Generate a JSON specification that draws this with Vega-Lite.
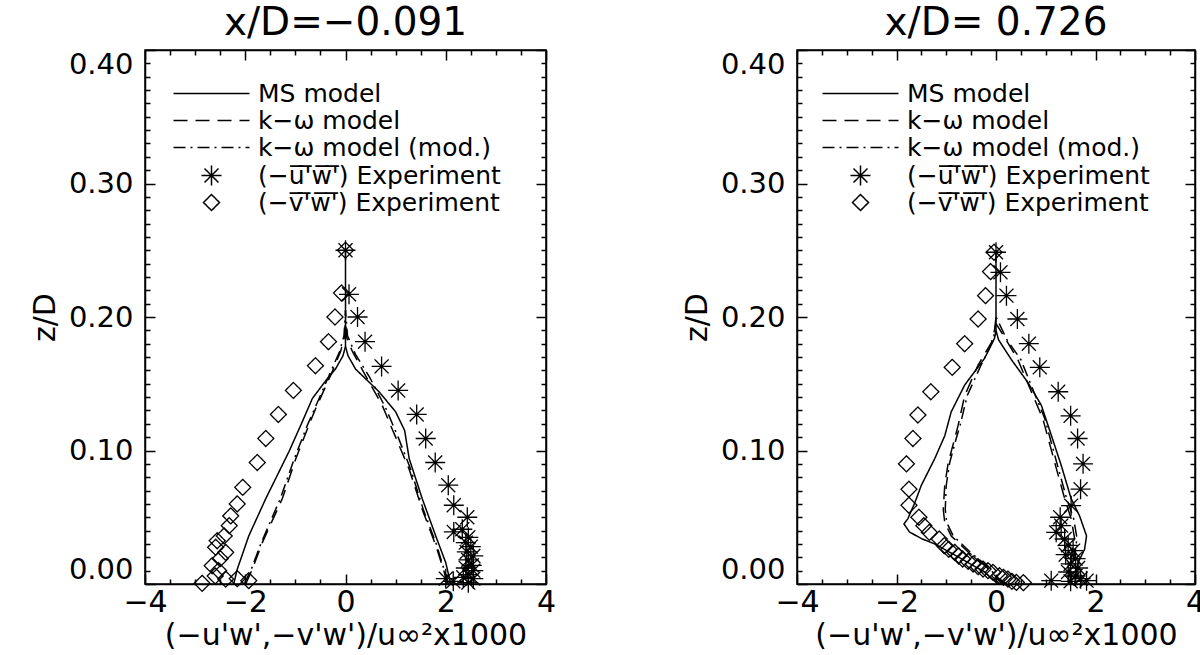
{
  "$schema": "https://vega.github.io/schema/vega-lite/v6.json",
  "background": "white",
  "padding": {"left": 29, "top": 3, "right": 0, "bottom": 0},
  "config": {
    "view": {"stroke": "black", "strokeWidth": 1.5},
    "axis": {"grid": false, "labelFont": "DejaVu Sans", "titleFont": "DejaVu Sans", "labelColor": "black", "titleColor": "black", "domainColor": "black", "tickColor": "black", "titleFontWeight": "normal", "labelFlush": false, "labelOverlap": false, "domainWidth": 1.5, "tickWidth": 1.5},
    "title": {"font": "DejaVu Sans", "fontSize": 39, "fontWeight": "normal", "color": "black", "anchor": "middle", "baseline": "alphabetic", "offset": 6}
  },
  "datasets": {
    "ms_a": [
      {"s":"MS  model","b":"L","v":-2.23,"z":0},{"s":"MS  model","b":"L","v":-2.16,"z":0.011},{"s":"MS  model","b":"L","v":-1.93,"z":0.036},{"s":"MS  model","b":"L","v":-1.59,"z":0.064},{"s":"MS  model","b":"L","v":-1.13,"z":0.099},{"s":"MS  model","b":"L","v":-0.88,"z":0.12},{"s":"MS  model","b":"L","v":-0.66,"z":0.139},{"s":"MS  model","b":"L","v":-0.4,"z":0.152},{"s":"MS  model","b":"L","v":-0.2,"z":0.161},{"s":"MS  model","b":"L","v":-0.05,"z":0.171},{"s":"MS  model","b":"L","v":0,"z":0.178},{"s":"MS  model","b":"L","v":0,"z":0.25},
      {"s":"MS  model","b":"R","v":0,"z":0.178},{"s":"MS  model","b":"R","v":0.05,"z":0.171},{"s":"MS  model","b":"R","v":0.2,"z":0.161},{"s":"MS  model","b":"R","v":0.67,"z":0.144},{"s":"MS  model","b":"R","v":1.0,"z":0.129},{"s":"MS  model","b":"R","v":1.18,"z":0.115},{"s":"MS  model","b":"R","v":1.27,"z":0.094},{"s":"MS  model","b":"R","v":1.53,"z":0.064},{"s":"MS  model","b":"R","v":1.8,"z":0.036},{"s":"MS  model","b":"R","v":2.0,"z":0.016},{"s":"MS  model","b":"R","v":2.1,"z":0}
    ],
    "kw_a": [
      {"s":"k−ω model","b":"L","v":-1.99,"z":0},{"s":"k−ω model","b":"L","v":-1.86,"z":0.011},{"s":"k−ω model","b":"L","v":-1.66,"z":0.031},{"s":"k−ω model","b":"L","v":-1.26,"z":0.064},{"s":"k−ω model","b":"L","v":-0.99,"z":0.094},{"s":"k−ω model","b":"L","v":-0.73,"z":0.119},{"s":"k−ω model","b":"L","v":-0.6,"z":0.131},{"s":"k−ω model","b":"L","v":-0.3,"z":0.156},{"s":"k−ω model","b":"L","v":-0.1,"z":0.174},{"s":"k−ω model","b":"L","v":-0.02,"z":0.185},{"s":"k−ω model","b":"L","v":0,"z":0.2},
      {"s":"k−ω model","b":"R","v":0,"z":0.2},{"s":"k−ω model","b":"R","v":0.02,"z":0.185},{"s":"k−ω model","b":"R","v":0.14,"z":0.174},{"s":"k−ω model","b":"R","v":0.4,"z":0.156},{"s":"k−ω model","b":"R","v":0.73,"z":0.134},{"s":"k−ω model","b":"R","v":1.0,"z":0.11},{"s":"k−ω model","b":"R","v":1.27,"z":0.086},{"s":"k−ω model","b":"R","v":1.53,"z":0.056},{"s":"k−ω model","b":"R","v":1.8,"z":0.029},{"s":"k−ω model","b":"R","v":1.97,"z":0.009},{"s":"k−ω model","b":"R","v":2.03,"z":0},
      {"s":"k−ω model (mod.)","b":"L","v":-2.02,"z":0},{"s":"k−ω model (mod.)","b":"L","v":-1.88,"z":0.011},{"s":"k−ω model (mod.)","b":"L","v":-1.68,"z":0.031},{"s":"k−ω model (mod.)","b":"L","v":-1.3,"z":0.064},{"s":"k−ω model (mod.)","b":"L","v":-1.02,"z":0.094},{"s":"k−ω model (mod.)","b":"L","v":-0.76,"z":0.119},{"s":"k−ω model (mod.)","b":"L","v":-0.62,"z":0.131},{"s":"k−ω model (mod.)","b":"L","v":-0.33,"z":0.156},{"s":"k−ω model (mod.)","b":"L","v":-0.12,"z":0.174},{"s":"k−ω model (mod.)","b":"L","v":-0.03,"z":0.186},{"s":"k−ω model (mod.)","b":"L","v":0,"z":0.205},
      {"s":"k−ω model (mod.)","b":"R","v":0,"z":0.205},{"s":"k−ω model (mod.)","b":"R","v":0.04,"z":0.186},{"s":"k−ω model (mod.)","b":"R","v":0.2,"z":0.172},{"s":"k−ω model (mod.)","b":"R","v":0.48,"z":0.155},{"s":"k−ω model (mod.)","b":"R","v":0.8,"z":0.132},{"s":"k−ω model (mod.)","b":"R","v":1.05,"z":0.11},{"s":"k−ω model (mod.)","b":"R","v":1.3,"z":0.086},{"s":"k−ω model (mod.)","b":"R","v":1.55,"z":0.056},{"s":"k−ω model (mod.)","b":"R","v":1.82,"z":0.029},{"s":"k−ω model (mod.)","b":"R","v":1.98,"z":0.009},{"s":"k−ω model (mod.)","b":"R","v":2.05,"z":0}
    ],
    "u_a": [
      {"s":"(−u̅'̅w̅'̅) Experiment","v":0.0,"z":0.25},{"s":"(−u̅'̅w̅'̅) Experiment","v":0.07,"z":0.217},{"s":"(−u̅'̅w̅'̅) Experiment","v":0.24,"z":0.2},{"s":"(−u̅'̅w̅'̅) Experiment","v":0.39,"z":0.1815},{"s":"(−u̅'̅w̅'̅) Experiment","v":0.72,"z":0.163},{"s":"(−u̅'̅w̅'̅) Experiment","v":1.05,"z":0.145},{"s":"(−u̅'̅w̅'̅) Experiment","v":1.42,"z":0.127},{"s":"(−u̅'̅w̅'̅) Experiment","v":1.6,"z":0.109},{"s":"(−u̅'̅w̅'̅) Experiment","v":1.79,"z":0.091},{"s":"(−u̅'̅w̅'̅) Experiment","v":2.05,"z":0.074},{"s":"(−u̅'̅w̅'̅) Experiment","v":2.16,"z":0.059},{"s":"(−u̅'̅w̅'̅) Experiment","v":2.43,"z":0.05},{"s":"(−u̅'̅w̅'̅) Experiment","v":2.33,"z":0.041},{"s":"(−u̅'̅w̅'̅) Experiment","v":2.16,"z":0.039},{"s":"(−u̅'̅w̅'̅) Experiment","v":2.45,"z":0.035},{"s":"(−u̅'̅w̅'̅) Experiment","v":2.4,"z":0.031},{"s":"(−u̅'̅w̅'̅) Experiment","v":2.5,"z":0.028},{"s":"(−u̅'̅w̅'̅) Experiment","v":2.42,"z":0.024},{"s":"(−u̅'̅w̅'̅) Experiment","v":2.55,"z":0.021},{"s":"(−u̅'̅w̅'̅) Experiment","v":2.45,"z":0.018},{"s":"(−u̅'̅w̅'̅) Experiment","v":2.52,"z":0.014},{"s":"(−u̅'̅w̅'̅) Experiment","v":2.4,"z":0.012},{"s":"(−u̅'̅w̅'̅) Experiment","v":2.55,"z":0.01},{"s":"(−u̅'̅w̅'̅) Experiment","v":2.45,"z":0.007},{"s":"(−u̅'̅w̅'̅) Experiment","v":2.35,"z":0.005},{"s":"(−u̅'̅w̅'̅) Experiment","v":2.55,"z":0.004},{"s":"(−u̅'̅w̅'̅) Experiment","v":2.0,"z":0.004},{"s":"(−u̅'̅w̅'̅) Experiment","v":2.15,"z":0.002},{"s":"(−u̅'̅w̅'̅) Experiment","v":2.45,"z":0.001}
    ],
    "d_a": [
      {"s":"(−v̅'̅w̅'̅) Experiment","v":0.0,"z":0.25},{"s":"(−v̅'̅w̅'̅) Experiment","v":-0.08,"z":0.218},{"s":"(−v̅'̅w̅'̅) Experiment","v":-0.21,"z":0.2},{"s":"(−v̅'̅w̅'̅) Experiment","v":-0.34,"z":0.1815},{"s":"(−v̅'̅w̅'̅) Experiment","v":-0.6,"z":0.1635},{"s":"(−v̅'̅w̅'̅) Experiment","v":-1.04,"z":0.145},{"s":"(−v̅'̅w̅'̅) Experiment","v":-1.34,"z":0.127},{"s":"(−v̅'̅w̅'̅) Experiment","v":-1.59,"z":0.109},{"s":"(−v̅'̅w̅'̅) Experiment","v":-1.76,"z":0.091},{"s":"(−v̅'̅w̅'̅) Experiment","v":-2.05,"z":0.0724},{"s":"(−v̅'̅w̅'̅) Experiment","v":-2.16,"z":0.06},{"s":"(−v̅'̅w̅'̅) Experiment","v":-2.29,"z":0.051},{"s":"(−v̅'̅w̅'̅) Experiment","v":-2.32,"z":0.0437},{"s":"(−v̅'̅w̅'̅) Experiment","v":-2.42,"z":0.036},{"s":"(−v̅'̅w̅'̅) Experiment","v":-2.56,"z":0.0324},{"s":"(−v̅'̅w̅'̅) Experiment","v":-2.59,"z":0.0275},{"s":"(−v̅'̅w̅'̅) Experiment","v":-2.39,"z":0.0237},{"s":"(−v̅'̅w̅'̅) Experiment","v":-2.5,"z":0.019},{"s":"(−v̅'̅w̅'̅) Experiment","v":-2.66,"z":0.0137},{"s":"(−v̅'̅w̅'̅) Experiment","v":-2.53,"z":0.01},{"s":"(−v̅'̅w̅'̅) Experiment","v":-2.6,"z":0.006},{"s":"(−v̅'̅w̅'̅) Experiment","v":-2.39,"z":0.0037},{"s":"(−v̅'̅w̅'̅) Experiment","v":-2.16,"z":0.004},{"s":"(−v̅'̅w̅'̅) Experiment","v":-1.93,"z":0.0025},{"s":"(−v̅'̅w̅'̅) Experiment","v":-2.86,"z":0.0005}
    ],
    "ms_b": [
      {"s":"MS  model","b":"L","v":0.04,"z":0},{"s":"MS  model","b":"L","v":-0.23,"z":0.009},{"s":"MS  model","b":"L","v":-0.7,"z":0.019},{"s":"MS  model","b":"L","v":-1.23,"z":0.03},{"s":"MS  model","b":"L","v":-1.5,"z":0.034},{"s":"MS  model","b":"L","v":-1.74,"z":0.039},{"s":"MS  model","b":"L","v":-1.85,"z":0.045},{"s":"MS  model","b":"L","v":-1.77,"z":0.049},{"s":"MS  model","b":"L","v":-1.63,"z":0.061},{"s":"MS  model","b":"L","v":-1.5,"z":0.074},{"s":"MS  model","b":"L","v":-1.23,"z":0.094},{"s":"MS  model","b":"L","v":-1.03,"z":0.111},{"s":"MS  model","b":"L","v":-0.9,"z":0.129},{"s":"MS  model","b":"L","v":-0.63,"z":0.149},{"s":"MS  model","b":"L","v":-0.23,"z":0.169},{"s":"MS  model","b":"L","v":-0.03,"z":0.184},{"s":"MS  model","b":"L","v":0,"z":0.19},{"s":"MS  model","b":"L","v":0,"z":0.25},
      {"s":"MS  model","b":"R","v":0,"z":0.19},{"s":"MS  model","b":"R","v":0.05,"z":0.183},{"s":"MS  model","b":"R","v":0.31,"z":0.168},{"s":"MS  model","b":"R","v":0.64,"z":0.151},{"s":"MS  model","b":"R","v":0.91,"z":0.134},{"s":"MS  model","b":"R","v":1.08,"z":0.115},{"s":"MS  model","b":"R","v":1.31,"z":0.089},{"s":"MS  model","b":"R","v":1.51,"z":0.064},{"s":"MS  model","b":"R","v":1.68,"z":0.051},{"s":"MS  model","b":"R","v":1.82,"z":0.036},{"s":"MS  model","b":"R","v":1.78,"z":0.026},{"s":"MS  model","b":"R","v":1.65,"z":0.016},{"s":"MS  model","b":"R","v":1.58,"z":0}
    ],
    "kw_b": [
      {"s":"k−ω model","b":"L","v":0.17,"z":0},{"s":"k−ω model","b":"L","v":0.04,"z":0.004},{"s":"k−ω model","b":"L","v":-0.23,"z":0.014},{"s":"k−ω model","b":"L","v":-0.56,"z":0.024},{"s":"k−ω model","b":"L","v":-0.9,"z":0.036},{"s":"k−ω model","b":"L","v":-1.03,"z":0.046},{"s":"k−ω model","b":"L","v":-1.06,"z":0.056},{"s":"k−ω model","b":"L","v":-1.03,"z":0.074},{"s":"k−ω model","b":"L","v":-0.96,"z":0.091},{"s":"k−ω model","b":"L","v":-0.83,"z":0.109},{"s":"k−ω model","b":"L","v":-0.76,"z":0.119},{"s":"k−ω model","b":"L","v":-0.63,"z":0.141},{"s":"k−ω model","b":"L","v":-0.36,"z":0.164},{"s":"k−ω model","b":"L","v":-0.09,"z":0.181},{"s":"k−ω model","b":"L","v":0,"z":0.195},
      {"s":"k−ω model","b":"R","v":0,"z":0.195},{"s":"k−ω model","b":"R","v":0.17,"z":0.185},{"s":"k−ω model","b":"R","v":0.44,"z":0.168},{"s":"k−ω model","b":"R","v":0.71,"z":0.144},{"s":"k−ω model","b":"R","v":0.94,"z":0.124},{"s":"k−ω model","b":"R","v":1.18,"z":0.091},{"s":"k−ω model","b":"R","v":1.38,"z":0.064},{"s":"k−ω model","b":"R","v":1.51,"z":0.049},{"s":"k−ω model","b":"R","v":1.58,"z":0.034},{"s":"k−ω model","b":"R","v":1.51,"z":0.019},{"s":"k−ω model","b":"R","v":1.45,"z":0},
      {"s":"k−ω model (mod.)","b":"L","v":0.2,"z":0},{"s":"k−ω model (mod.)","b":"L","v":0.06,"z":0.004},{"s":"k−ω model (mod.)","b":"L","v":-0.2,"z":0.014},{"s":"k−ω model (mod.)","b":"L","v":-0.52,"z":0.024},{"s":"k−ω model (mod.)","b":"L","v":-0.86,"z":0.036},{"s":"k−ω model (mod.)","b":"L","v":-0.99,"z":0.046},{"s":"k−ω model (mod.)","b":"L","v":-1.02,"z":0.056},{"s":"k−ω model (mod.)","b":"L","v":-1.0,"z":0.074},{"s":"k−ω model (mod.)","b":"L","v":-0.93,"z":0.091},{"s":"k−ω model (mod.)","b":"L","v":-0.8,"z":0.109},{"s":"k−ω model (mod.)","b":"L","v":-0.72,"z":0.119},{"s":"k−ω model (mod.)","b":"L","v":-0.58,"z":0.141},{"s":"k−ω model (mod.)","b":"L","v":-0.3,"z":0.164},{"s":"k−ω model (mod.)","b":"L","v":-0.05,"z":0.183},{"s":"k−ω model (mod.)","b":"L","v":0,"z":0.2},
      {"s":"k−ω model (mod.)","b":"R","v":0,"z":0.2},{"s":"k−ω model (mod.)","b":"R","v":0.22,"z":0.183},{"s":"k−ω model (mod.)","b":"R","v":0.5,"z":0.168},{"s":"k−ω model (mod.)","b":"R","v":0.76,"z":0.144},{"s":"k−ω model (mod.)","b":"R","v":0.98,"z":0.124},{"s":"k−ω model (mod.)","b":"R","v":1.22,"z":0.091},{"s":"k−ω model (mod.)","b":"R","v":1.42,"z":0.064},{"s":"k−ω model (mod.)","b":"R","v":1.56,"z":0.049},{"s":"k−ω model (mod.)","b":"R","v":1.63,"z":0.034},{"s":"k−ω model (mod.)","b":"R","v":1.56,"z":0.019},{"s":"k−ω model (mod.)","b":"R","v":1.5,"z":0}
    ],
    "u_b": [
      {"s":"(−u̅'̅w̅'̅) Experiment","v":0.0,"z":0.2485},{"s":"(−u̅'̅w̅'̅) Experiment","v":0.09,"z":0.2335},{"s":"(−u̅'̅w̅'̅) Experiment","v":0.21,"z":0.216},{"s":"(−u̅'̅w̅'̅) Experiment","v":0.43,"z":0.1985},{"s":"(−u̅'̅w̅'̅) Experiment","v":0.66,"z":0.18},{"s":"(−u̅'̅w̅'̅) Experiment","v":0.88,"z":0.1623},{"s":"(−u̅'̅w̅'̅) Experiment","v":1.25,"z":0.144},{"s":"(−u̅'̅w̅'̅) Experiment","v":1.5,"z":0.126},{"s":"(−u̅'̅w̅'̅) Experiment","v":1.64,"z":0.109},{"s":"(−u̅'̅w̅'̅) Experiment","v":1.75,"z":0.09},{"s":"(−u̅'̅w̅'̅) Experiment","v":1.7,"z":0.071},{"s":"(−u̅'̅w̅'̅) Experiment","v":1.51,"z":0.0587},{"s":"(−u̅'̅w̅'̅) Experiment","v":1.29,"z":0.05},{"s":"(−u̅'̅w̅'̅) Experiment","v":1.31,"z":0.0437},{"s":"(−u̅'̅w̅'̅) Experiment","v":1.21,"z":0.0387},{"s":"(−u̅'̅w̅'̅) Experiment","v":1.38,"z":0.0337},{"s":"(−u̅'̅w̅'̅) Experiment","v":1.45,"z":0.029},{"s":"(−u̅'̅w̅'̅) Experiment","v":1.55,"z":0.025},{"s":"(−u̅'̅w̅'̅) Experiment","v":1.4,"z":0.022},{"s":"(−u̅'̅w̅'̅) Experiment","v":1.6,"z":0.019},{"s":"(−u̅'̅w̅'̅) Experiment","v":1.5,"z":0.015},{"s":"(−u̅'̅w̅'̅) Experiment","v":1.65,"z":0.012},{"s":"(−u̅'̅w̅'̅) Experiment","v":1.45,"z":0.009},{"s":"(−u̅'̅w̅'̅) Experiment","v":1.6,"z":0.006},{"s":"(−u̅'̅w̅'̅) Experiment","v":1.7,"z":0.004},{"s":"(−u̅'̅w̅'̅) Experiment","v":1.11,"z":0.0025},{"s":"(−u̅'̅w̅'̅) Experiment","v":1.82,"z":0.0025},{"s":"(−u̅'̅w̅'̅) Experiment","v":1.5,"z":0.002}
    ],
    "d_b": [
      {"s":"(−v̅'̅w̅'̅) Experiment","v":-0.04,"z":0.2485},{"s":"(−v̅'̅w̅'̅) Experiment","v":-0.11,"z":0.234},{"s":"(−v̅'̅w̅'̅) Experiment","v":-0.21,"z":0.216},{"s":"(−v̅'̅w̅'̅) Experiment","v":-0.36,"z":0.1985},{"s":"(−v̅'̅w̅'̅) Experiment","v":-0.63,"z":0.18},{"s":"(−v̅'̅w̅'̅) Experiment","v":-0.88,"z":0.1623},{"s":"(−v̅'̅w̅'̅) Experiment","v":-1.31,"z":0.144},{"s":"(−v̅'̅w̅'̅) Experiment","v":-1.57,"z":0.1266},{"s":"(−v̅'̅w̅'̅) Experiment","v":-1.67,"z":0.109},{"s":"(−v̅'̅w̅'̅) Experiment","v":-1.8,"z":0.09},{"s":"(−v̅'̅w̅'̅) Experiment","v":-1.75,"z":0.071},{"s":"(−v̅'̅w̅'̅) Experiment","v":-1.75,"z":0.059},{"s":"(−v̅'̅w̅'̅) Experiment","v":-1.55,"z":0.05},{"s":"(−v̅'̅w̅'̅) Experiment","v":-1.45,"z":0.0437},{"s":"(−v̅'̅w̅'̅) Experiment","v":-1.34,"z":0.0387},{"s":"(−v̅'̅w̅'̅) Experiment","v":-1.14,"z":0.0337},{"s":"(−v̅'̅w̅'̅) Experiment","v":-1.04,"z":0.0287},{"s":"(−v̅'̅w̅'̅) Experiment","v":-0.95,"z":0.026},{"s":"(−v̅'̅w̅'̅) Experiment","v":-0.83,"z":0.0237},{"s":"(−v̅'̅w̅'̅) Experiment","v":-0.75,"z":0.021},{"s":"(−v̅'̅w̅'̅) Experiment","v":-0.67,"z":0.0187},{"s":"(−v̅'̅w̅'̅) Experiment","v":-0.56,"z":0.017},{"s":"(−v̅'̅w̅'̅) Experiment","v":-0.46,"z":0.015},{"s":"(−v̅'̅w̅'̅) Experiment","v":-0.36,"z":0.013},{"s":"(−v̅'̅w̅'̅) Experiment","v":-0.26,"z":0.0112},{"s":"(−v̅'̅w̅'̅) Experiment","v":-0.16,"z":0.01},{"s":"(−v̅'̅w̅'̅) Experiment","v":-0.06,"z":0.0087},{"s":"(−v̅'̅w̅'̅) Experiment","v":0.07,"z":0.0062},{"s":"(−v̅'̅w̅'̅) Experiment","v":0.15,"z":0.005},{"s":"(−v̅'̅w̅'̅) Experiment","v":0.24,"z":0.0037},{"s":"(−v̅'̅w̅'̅) Experiment","v":0.32,"z":0.002},{"s":"(−v̅'̅w̅'̅) Experiment","v":0.41,"z":0.0012},{"s":"(−v̅'̅w̅'̅) Experiment","v":0.55,"z":0.001}
    ]
  },
  "spacing": 124,
  "resolve": {"legend": {"shape": "independent", "strokeDash": "independent"}},
  "hconcat": [
    {
      "width": 401, "height": 534,
      "title": {"text": "x/D=−0.091"},
      "resolve": {"axis": {"x": "independent", "y": "independent"}},
      "layer": [
        {
          "data": {"name": "ms_a"},
          "mark": {"type": "line", "color": "black", "strokeWidth": 1.5},
          "encoding": {
            "x": {"field": "v", "type": "quantitative", "scale": {"domain": [-4, 4], "nice": false, "zero": false}, "axis": {"orient": "bottom", "values": [-4, -2, 0, 2, 4], "tickSize": -10, "labelPadding": 13, "labelFontSize": 30, "title": "(−u'w',−v'w')/u∞²x1000", "titleFontSize": 30, "titlePadding": 3}},
            "y": {"field": "z", "type": "quantitative", "scale": {"domain": [0, 0.4], "nice": false, "zero": false}, "axis": {"orient": "left", "values": [0, 0.1, 0.2, 0.3, 0.4], "format": ".2f", "tickSize": -10, "labelPadding": 22, "labelFontSize": 29, "labelFlush": true, "labelFlushOffset": 0, "title": "z/D", "titleFontSize": 30, "titlePadding": 8}},
            "strokeDash": {"field": "s", "type": "nominal", "scale": {"domain": ["MS  model", "k−ω model", "k−ω model (mod.)", "(−u̅'̅w̅'̅) Experiment", "(−v̅'̅w̅'̅) Experiment"], "range": [[1, 0], [14, 8], [12, 5, 2, 5], [1, 0], [1, 0]]}},
            "detail": {"field": "b"},
            "order": {"field": "z", "type": "quantitative"}
          }
        },
        {
          "data": {"name": "kw_a"},
          "mark": {"type": "line", "color": "black", "strokeWidth": 1.5},
          "encoding": {
            "x": {"field": "v", "type": "quantitative", "axis": {"orient": "top", "values": [-4, -2, 0, 2, 4], "tickSize": -10, "labels": false, "title": null}},
            "y": {"field": "z", "type": "quantitative", "axis": {"orient": "right", "values": [0, 0.1, 0.2, 0.3, 0.4], "tickSize": -10, "labels": false, "title": null}},
            "strokeDash": {"field": "s", "type": "nominal"},
            "detail": {"field": "b"},
            "order": {"field": "z", "type": "quantitative"}
          }
        },
        {
          "data": {"name": "u_a"},
          "mark": {"type": "point", "filled": false, "color": "black", "size": 400, "strokeWidth": 1.3, "opacity": 1},
          "encoding": {
            "x": {"field": "v", "type": "quantitative", "axis": {"orient": "bottom", "values": [-3.5, -3, -2.5, -1.5, -1, -0.5, 0.5, 1, 1.5, 2.5, 3, 3.5], "tickSize": -5, "labels": false, "domain": false, "title": null}},
            "y": {"field": "z", "type": "quantitative", "axis": {"orient": "left", "values": [0.01,0.02,0.03,0.04,0.05,0.06,0.07,0.08,0.09,0.11,0.12,0.13,0.14,0.15,0.16,0.17,0.18,0.19,0.21,0.22,0.23,0.24,0.25,0.26,0.27,0.28,0.29,0.31,0.32,0.33,0.34,0.35,0.36,0.37,0.38,0.39], "tickSize": -5, "labels": false, "domain": false, "title": null}},
            "shape": {"field": "s", "type": "nominal", "scale": {"domain": ["MS  model", "k−ω model", "k−ω model (mod.)", "(−u̅'̅w̅'̅) Experiment", "(−v̅'̅w̅'̅) Experiment"], "range": ["M-3.8,0L3.8,0", "M-3.8,0L3.8,0", "M-3.8,0L3.8,0", "M0,-1L0,1M-1,0L1,0M-0.7,-0.7L0.7,0.7M-0.7,0.7L0.7,-0.7", "M0,-0.8L0.8,0L0,0.8L-0.8,0Z"]},
              "legend": {"orient": "none", "legendX": 54, "legendY": 31, "title": null, "labelFont": "DejaVu Sans", "labelFontSize": 25, "labelColor": "black", "labelLimit": 500, "labelOffset": 34, "symbolSize": 400, "symbolStrokeWidth": 1.5, "symbolStrokeColor": "black", "symbolFillColor": "transparent", "rowPadding": 1, "padding": 0}},
            "strokeDash": {"field": "s", "type": "nominal",
              "legend": {"orient": "none", "legendX": 54, "legendY": 31, "title": null, "labelFont": "DejaVu Sans", "labelFontSize": 25, "labelColor": "black", "labelLimit": 500, "labelOffset": 34, "symbolSize": 400, "symbolStrokeWidth": 1.5, "symbolStrokeColor": "black", "symbolFillColor": "transparent", "rowPadding": 1, "padding": 0}}
          }
        },
        {
          "data": {"name": "d_a"},
          "mark": {"type": "point", "filled": false, "color": "black", "size": 400, "strokeWidth": 1.3, "opacity": 1},
          "encoding": {
            "x": {"field": "v", "type": "quantitative", "axis": {"orient": "top", "values": [-3.5, -3, -2.5, -1.5, -1, -0.5, 0.5, 1, 1.5, 2.5, 3, 3.5], "tickSize": -5, "labels": false, "domain": false, "title": null}},
            "y": {"field": "z", "type": "quantitative", "axis": {"orient": "right", "values": [0.01,0.02,0.03,0.04,0.05,0.06,0.07,0.08,0.09,0.11,0.12,0.13,0.14,0.15,0.16,0.17,0.18,0.19,0.21,0.22,0.23,0.24,0.25,0.26,0.27,0.28,0.29,0.31,0.32,0.33,0.34,0.35,0.36,0.37,0.38,0.39], "tickSize": -5, "labels": false, "domain": false, "title": null}},
            "shape": {"field": "s", "type": "nominal"},
            "strokeDash": {"field": "s", "type": "nominal"}
          }
        }
      ]
    },
    {
      "width": 398, "height": 534,
      "title": {"text": "x/D= 0.726"},
      "resolve": {"axis": {"x": "independent", "y": "independent"}},
      "layer": [
        {
          "data": {"name": "ms_b"},
          "mark": {"type": "line", "color": "black", "strokeWidth": 1.5},
          "encoding": {
            "x": {"field": "v", "type": "quantitative", "scale": {"domain": [-4, 4], "nice": false, "zero": false}, "axis": {"orient": "bottom", "values": [-4, -2, 0, 2, 4], "tickSize": -10, "labelPadding": 13, "labelFontSize": 30, "title": "(−u'w',−v'w')/u∞²x1000", "titleFontSize": 30, "titlePadding": 3}},
            "y": {"field": "z", "type": "quantitative", "scale": {"domain": [0, 0.4], "nice": false, "zero": false}, "axis": {"orient": "left", "values": [0, 0.1, 0.2, 0.3, 0.4], "format": ".2f", "tickSize": -10, "labelPadding": 22, "labelFontSize": 29, "labelFlush": true, "labelFlushOffset": 0, "title": "z/D", "titleFontSize": 30, "titlePadding": 8}},
            "strokeDash": {"field": "s", "type": "nominal", "scale": {"domain": ["MS  model", "k−ω model", "k−ω model (mod.)", "(−u̅'̅w̅'̅) Experiment", "(−v̅'̅w̅'̅) Experiment"], "range": [[1, 0], [14, 8], [12, 5, 2, 5], [1, 0], [1, 0]]}},
            "detail": {"field": "b"},
            "order": {"field": "z", "type": "quantitative"}
          }
        },
        {
          "data": {"name": "kw_b"},
          "mark": {"type": "line", "color": "black", "strokeWidth": 1.5},
          "encoding": {
            "x": {"field": "v", "type": "quantitative", "axis": {"orient": "top", "values": [-4, -2, 0, 2, 4], "tickSize": -10, "labels": false, "title": null}},
            "y": {"field": "z", "type": "quantitative", "axis": {"orient": "right", "values": [0, 0.1, 0.2, 0.3, 0.4], "tickSize": -10, "labels": false, "title": null}},
            "strokeDash": {"field": "s", "type": "nominal"},
            "detail": {"field": "b"},
            "order": {"field": "z", "type": "quantitative"}
          }
        },
        {
          "data": {"name": "u_b"},
          "mark": {"type": "point", "filled": false, "color": "black", "size": 400, "strokeWidth": 1.3, "opacity": 1},
          "encoding": {
            "x": {"field": "v", "type": "quantitative", "axis": {"orient": "bottom", "values": [-3.5, -3, -2.5, -1.5, -1, -0.5, 0.5, 1, 1.5, 2.5, 3, 3.5], "tickSize": -5, "labels": false, "domain": false, "title": null}},
            "y": {"field": "z", "type": "quantitative", "axis": {"orient": "left", "values": [0.01,0.02,0.03,0.04,0.05,0.06,0.07,0.08,0.09,0.11,0.12,0.13,0.14,0.15,0.16,0.17,0.18,0.19,0.21,0.22,0.23,0.24,0.25,0.26,0.27,0.28,0.29,0.31,0.32,0.33,0.34,0.35,0.36,0.37,0.38,0.39], "tickSize": -5, "labels": false, "domain": false, "title": null}},
            "shape": {"field": "s", "type": "nominal", "scale": {"domain": ["MS  model", "k−ω model", "k−ω model (mod.)", "(−u̅'̅w̅'̅) Experiment", "(−v̅'̅w̅'̅) Experiment"], "range": ["M-3.8,0L3.8,0", "M-3.8,0L3.8,0", "M-3.8,0L3.8,0", "M0,-1L0,1M-1,0L1,0M-0.7,-0.7L0.7,0.7M-0.7,0.7L0.7,-0.7", "M0,-0.8L0.8,0L0,0.8L-0.8,0Z"]},
              "legend": {"orient": "none", "legendX": 51, "legendY": 31, "title": null, "labelFont": "DejaVu Sans", "labelFontSize": 25, "labelColor": "black", "labelLimit": 500, "labelOffset": 34, "symbolSize": 400, "symbolStrokeWidth": 1.5, "symbolStrokeColor": "black", "symbolFillColor": "transparent", "rowPadding": 1, "padding": 0}},
            "strokeDash": {"field": "s", "type": "nominal",
              "legend": {"orient": "none", "legendX": 51, "legendY": 31, "title": null, "labelFont": "DejaVu Sans", "labelFontSize": 25, "labelColor": "black", "labelLimit": 500, "labelOffset": 34, "symbolSize": 400, "symbolStrokeWidth": 1.5, "symbolStrokeColor": "black", "symbolFillColor": "transparent", "rowPadding": 1, "padding": 0}}
          }
        },
        {
          "data": {"name": "d_b"},
          "mark": {"type": "point", "filled": false, "color": "black", "size": 400, "strokeWidth": 1.3, "opacity": 1},
          "encoding": {
            "x": {"field": "v", "type": "quantitative", "axis": {"orient": "top", "values": [-3.5, -3, -2.5, -1.5, -1, -0.5, 0.5, 1, 1.5, 2.5, 3, 3.5], "tickSize": -5, "labels": false, "domain": false, "title": null}},
            "y": {"field": "z", "type": "quantitative", "axis": {"orient": "right", "values": [0.01,0.02,0.03,0.04,0.05,0.06,0.07,0.08,0.09,0.11,0.12,0.13,0.14,0.15,0.16,0.17,0.18,0.19,0.21,0.22,0.23,0.24,0.25,0.26,0.27,0.28,0.29,0.31,0.32,0.33,0.34,0.35,0.36,0.37,0.38,0.39], "tickSize": -5, "labels": false, "domain": false, "title": null}},
            "shape": {"field": "s", "type": "nominal"},
            "strokeDash": {"field": "s", "type": "nominal"}
          }
        }
      ]
    }
  ]
}
